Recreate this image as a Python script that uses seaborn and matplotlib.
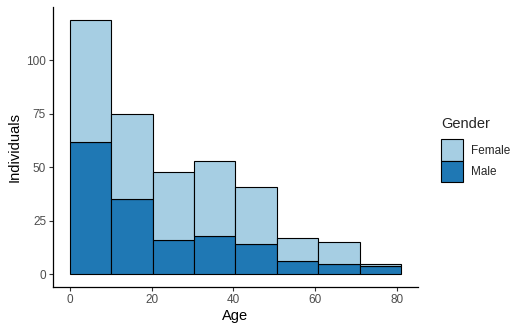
import numpy as np
import pandas as pd
import seaborn as sns
import matplotlib.pyplot as plt

# === Datos ===
bin_edges = [0, 10.125, 20.25, 30.375, 40.5, 50.625, 60.75, 70.875, 81]
bin_mids = [5.06, 15.19, 25.31, 35.44, 45.56, 55.69, 65.81, 75.94]
male_counts = [62, 35, 16, 18, 14, 6, 5, 4]
female_counts = [57, 40, 32, 35, 27, 11, 10, 1]
genders = ['Female', 'Male']

df = pd.DataFrame({
    'Age': bin_mids * 2,
    'Individuals': female_counts + male_counts,
    'Gender': ['Female'] * len(bin_mids) + ['Male'] * len(bin_mids),
})

sns.set_style('white')
plt.rcParams['font.family'] = ['Liberation Sans', 'DejaVu Sans']

fig = plt.figure(figsize=(5.25, 3.32), dpi=100)
ax = fig.add_axes([0.101, 0.1355, 0.695, 0.8435])

sns.histplot(data=df, x='Age', weights='Individuals', hue='Gender',
             hue_order=genders, multiple='stack', bins=bin_edges,
             palette=['#A6CEE3', '#1F78B4'], alpha=1,
             edgecolor='black', linewidth=0.8, ax=ax)

ax.set_xlim(-4.05, 85.05)
ax.set_ylim(-5.95, 124.95)
ax.set_xticks([0, 20, 40, 60, 80])
ax.set_yticks([0, 25, 50, 75, 100])
ax.set_xlabel('Age', fontsize=10.5, color='black', labelpad=2)
ax.set_ylabel('Individuals', fontsize=10.5, color='black', labelpad=3)
ax.tick_params(axis='both', labelsize=8.5, labelcolor='#4D4D4D',
               length=3, width=0.8, color='#333333', direction='out',
               bottom=True, left=True, pad=2)
sns.despine(ax=ax)
for s in ['left', 'bottom']:
    ax.spines[s].set_color('black')
    ax.spines[s].set_linewidth(0.9)

# Leyenda a la derecha
sns.move_legend(ax, 'upper left', bbox_to_anchor=(1.035, 0.645),
                frameon=False, title='Gender', fontsize=8.5,
                title_fontsize=10.5, handlelength=1.8, handleheight=2.4,
                handletextpad=0.75, labelspacing=0.0, alignment='left',
                borderaxespad=0.5)
leg = ax.get_legend()
leg._legend_box.sep = 6
for h in leg.legend_handles:
    h.set_edgecolor('black')
    h.set_linewidth(0.8)

plt.savefig('out.png', dpi=100)
